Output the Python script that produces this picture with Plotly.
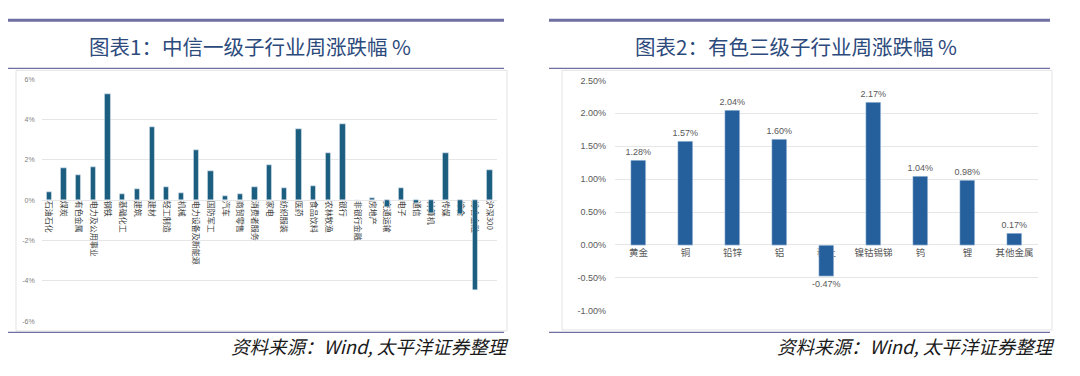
import plotly.graph_objects as go

# ---------------- data ----------------
citic_industries = ["石油石化", "煤炭", "有色金属", "电力及公用事业", "钢铁", "基础化工", "建筑", "建材",
                    "轻工制造", "机械", "电力设备及新能源", "国防军工", "汽车", "商贸零售", "消费者服务", "家电",
                    "纺织服装", "医药", "食品饮料", "农林牧渔", "银行", "非银行金融", "房地产", "交通运输",
                    "电子", "通信", "计算机", "传媒", "综合", "综合金融", "沪深300"]
citic_change = [0.39, 1.57, 1.22, 1.64, 5.24, 0.32, 0.56, 3.60,
                0.64, 0.37, 2.47, 1.43, 0.19, 0.32, 0.67, 1.72,
                0.61, 3.53, 0.71, 2.33, 3.76, 0.02, 0.08, -0.33,
                0.58, -0.17, -0.62, 2.35, -0.70, -4.47, 1.49]

metal_subs = ["黄金", "铜", "铅锌", "铝", "稀土", "镍钴锡锑", "钨", "锂", "其他金属"]
metal_change = [1.28, 1.57, 2.04, 1.60, -0.47, 2.17, 1.04, 0.98, 0.17]

left_ticks = [-6, -4, -2, 0, 2, 4, 6]
right_ticks = [-1.0, -0.5, 0.0, 0.5, 1.0, 1.5, 2.0, 2.5]

# the page body has an 8px margin: make the figure fit inside the window
OFF = 8
W, H = 1080 - 2 * OFF, 376 - 2 * OFF
def px(x):
    return (x - OFF) / W
def py(y):
    return 1 - (y - OFF) / H

fig = go.Figure()

fig.add_trace(go.Bar(x=citic_industries, y=citic_change, marker_color="#1b5e80",
                     width=0.36, xaxis="x", yaxis="y", showlegend=False))
fig.add_trace(go.Bar(x=metal_subs, y=metal_change, marker_color="#255f9c",
                     width=0.33, xaxis="x2", yaxis="y2", showlegend=False,
                     text=metal_change, texttemplate="%{y:.2f}%", textposition="outside",
                     constraintext="none",
                     textfont=dict(size=9, color="#595959", family="Liberation Sans"),
                     cliponaxis=False))

grid = "#e6e6e6"
fig.update_layout(
    width=W, height=H, margin=dict(l=0, r=0, t=0, b=0),
    paper_bgcolor="white", plot_bgcolor="white",
    bargap=0,
    xaxis=dict(domain=[px(41.7), px(497)], anchor="free", position=py(200),
               tickangle=90, tickfont=dict(size=8, color="#404040", family="Noto Sans CJK SC"),
               showgrid=False, ticks="", showline=False, layer="below traces"),
    yaxis=dict(domain=[py(325), py(76)], range=[-6, 6], tickvals=left_ticks,
               ticktext=[f"{v}%" for v in left_ticks], anchor="x",
               tickfont=dict(size=7, color="#808080", family="Liberation Sans"),
               showgrid=True, gridcolor=grid, zeroline=True, zerolinecolor=grid, zerolinewidth=1,
               showline=False, ticks="", ticklabelstandoff=6),
    xaxis2=dict(domain=[px(615), px(1038)], anchor="free", position=py(247.5),
                tickangle=0, tickfont=dict(size=9.5, color="#595959", family="Noto Sans CJK SC"),
                showgrid=False, ticks="", showline=False, layer="below traces"),
    yaxis2=dict(domain=[py(314.3), py(77.3)], range=[-1, 2.5], tickvals=right_ticks,
                ticktext=[f"{v:.2f}%" for v in right_ticks], anchor="x2",
                tickfont=dict(size=9, color="#595959", family="Liberation Sans"),
                showgrid=True, gridcolor=grid, zeroline=True, zerolinecolor=grid, zerolinewidth=1,
                showline=False, ticks="", ticklabelstandoff=8),
)

line_col = "#6f6fa3"
shapes = []
# panel frames
shapes.append(dict(type="rect", xref="paper", yref="paper", x0=px(16), x1=px(507), y0=py(335), y1=py(67),
                   line=dict(color="#e3e3e3", width=1), layer="below"))
shapes.append(dict(type="rect", xref="paper", yref="paper", x0=px(562), x1=px(1052), y0=py(334), y1=py(67),
                   line=dict(color="#e3e3e3", width=1), layer="below"))
for x0, x1 in [(4, 504), (549, 1050)]:
    shapes.append(dict(type="line", xref="paper", yref="paper", x0=px(max(x0, OFF)), x1=px(x1), y0=py(15.5), y1=py(15.5),
                       line=dict(color=line_col, width=3)))
    shapes.append(dict(type="line", xref="paper", yref="paper", x0=px(max(x0, OFF)), x1=px(x1), y0=py(65), y1=py(65),
                       line=dict(color=line_col, width=1.2)))
    shapes.append(dict(type="line", xref="paper", yref="paper", x0=px(max(x0, OFF)), x1=px(x1), y0=py(336.5), y1=py(336.5),
                       line=dict(color=line_col, width=1.2)))
fig.update_layout(shapes=shapes)

title_font = dict(size=20.5, color="#2c4a7c", family="Noto Sans CJK SC")
src_font = dict(size=18.5, color="#1a1a1a", family="Noto Sans CJK SC", style="italic")
anns = [
    dict(text="图表1：中信一级子行业周涨跌幅 %", x=px(250), y=py(42), xref="paper", yref="paper",
         showarrow=False, xanchor="center", yanchor="middle", font=title_font),
    dict(text="图表2：有色三级子行业周涨跌幅 %", x=px(796), y=py(42), xref="paper", yref="paper",
         showarrow=False, xanchor="center", yanchor="middle", font=title_font),
    dict(text="资料来源：Wind, 太平洋证券整理", x=px(511), y=py(351), xref="paper", yref="paper",
         showarrow=False, xanchor="right", yanchor="middle", font=src_font),
    dict(text="资料来源：Wind, 太平洋证券整理", x=px(1057), y=py(351), xref="paper", yref="paper",
         showarrow=False, xanchor="right", yanchor="middle", font=src_font),
]
fig.update_layout(annotations=anns)

fig.write_html("out.html")
